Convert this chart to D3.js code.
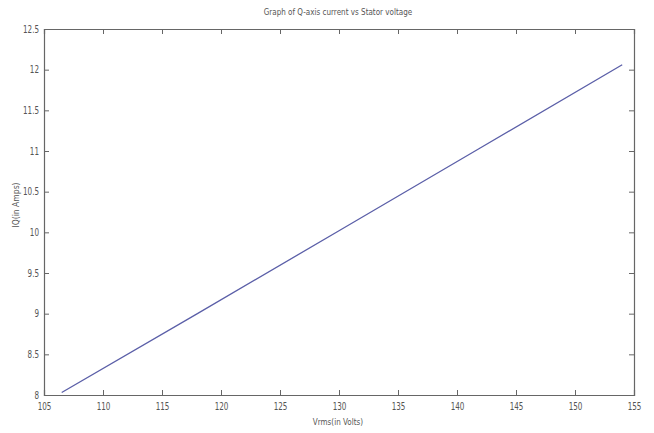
<!DOCTYPE html>
<html><head><meta charset="utf-8">
<script src="https://cdn.jsdelivr.net/npm/d3@7"></script>
<style>
body{margin:0;background:#fff;}
text{font-family:"DejaVu Sans",sans-serif;fill:#555;}
</style></head>
<body><svg id="c" width="654" height="433"></svg>
<script>
const vrms = [106.5, 118, 130, 142, 154];
const iq   = [8.03, 9.0, 10.02, 11.04, 12.06];
const xTicks = [105,110,115,120,125,130,135,140,145,150,155];
const yTicks = [8,8.5,9,9.5,10,10.5,11,11.5,12,12.5];
const title = "Graph of Q-axis current vs Stator voltage";
const xLabel = "Vrms(in Volts)";
const yLabel = "IQ(in Amps)";

const svg = d3.select("#c");
const m = {l:44, r:20, t:29, b:38};
const W = 654, H = 433;
const x = d3.scaleLinear().domain([105,155]).range([m.l, W-m.r]);
const y = d3.scaleLinear().domain([8,12.5]).range([H-m.b, m.t]);
const axc = "#666";
const tl = 5;
const fmt = d => String(d);

function squeeze(sel, f){
  sel.each(function(){
    const L = this.getComputedTextLength();
    d3.select(this).attr("textLength", L*f).attr("lengthAdjust","spacingAndGlyphs");
  });
}

const gx = svg.append("g").attr("transform",`translate(0,${H-m.b})`)
  .call(d3.axisBottom(x).tickValues(xTicks).tickSize(-tl).tickPadding(8).tickFormat(fmt));
const gxt = svg.append("g").attr("transform",`translate(0,${m.t})`)
  .call(d3.axisTop(x).tickValues(xTicks).tickSize(-tl).tickFormat(""));
const gy = svg.append("g").attr("transform",`translate(${m.l},0)`)
  .call(d3.axisLeft(y).tickValues(yTicks).tickSize(-tl).tickPadding(5).tickFormat(fmt));
const gyr = svg.append("g").attr("transform",`translate(${W-m.r},0)`)
  .call(d3.axisRight(y).tickValues(yTicks).tickSize(-tl).tickFormat(""));
[gx,gxt,gy,gyr].forEach(g=>{
  g.selectAll("path.domain").attr("stroke",axc).attr("stroke-width",1.2);
  g.selectAll(".tick line").attr("stroke",axc);
  g.selectAll(".tick text").style("font-size","10px").style("font-family","'DejaVu Sans',sans-serif").attr("fill","#555");
  squeeze(g.selectAll(".tick text"), 0.72);
});

svg.append("path").datum(vrms.map((v,i)=>[v,iq[i]]))
  .attr("fill","none").attr("stroke","#5b5fa8").attr("stroke-width",1.3)
  .attr("d", d3.line().x(d=>x(d[0])).y(d=>y(d[1])));

const t1 = svg.append("text").attr("x",338).attr("y",15).attr("text-anchor","middle")
  .style("font-size","9px").text(title);
const t2 = svg.append("text").attr("x",338).attr("y",425).attr("text-anchor","middle")
  .style("font-size","9px").text(xLabel);
const t3 = svg.append("text").attr("transform",`translate(19,205) rotate(-90)`).attr("text-anchor","middle")
  .style("font-size","9px").text(yLabel);
squeeze(t1, 0.8); squeeze(t2, 0.8); squeeze(t3, 0.85);
</script></body></html>
